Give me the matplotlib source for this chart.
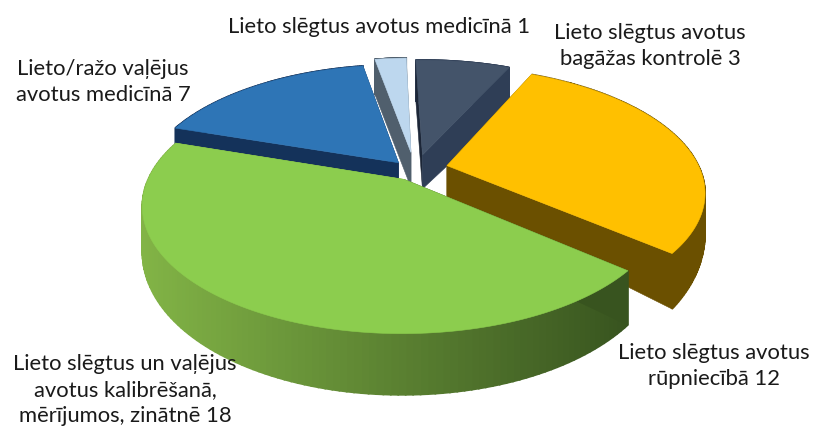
import numpy as np
import matplotlib
matplotlib.use('Agg')
import matplotlib.pyplot as plt
from matplotlib.patches import Polygon

plt.rcParams['font.family'] = ['Lato', 'Noto Sans', 'DejaVu Sans']

# clockwise from the top, as in the picture
labels = ['Lieto slēgtus avotus\nbagāžas kontrolē 3',
          'Lieto slēgtus avotus\nrūpniecībā 12',
          'Lieto slēgtus un vaļējus\navotus kalibrēšanā,\nmērījumos, zinātnē 18',
          'Lieto/ražo vaļējus\navotus medicīnā 7',
          'Lieto slēgtus avotus medicīnā 1']
values = [3, 12, 18, 7, 1]

top_colors = ['#44546a', '#ffc000', '#8ccd4e', '#2e75b6', '#bdd7ee']
wall_left = ['#2f3e56', '#6b5000', '#82b446', '#14325a', '#505f6d']
wall_right = ['#2f3e56', '#6b5000', '#38541f', '#14325a', '#505f6d']
cut_start = ['#1c2637', '#6b5000', '#38541f', '#14325a', '#505f6d']
cut_end = ['#2f3e56', '#6b5000', '#82b446', '#14325a', '#505f6d']
explode = [0.15, 0.13, 0.07, 0.07, 0.16]
# small corrections in px after the explode
nudge_x = [3, 3, 1, -2, 3]
nudge_y = [1, -2, 1, -2, 0]
# wall height in px: a - b * y
depth_a = [33, 32, 40, 25, 35]
depth_b = [-7, 38, 20, 0, 0]
label_pos = [(650, 46), (714, 366), (125, 390), (103, 82), (379, 27)]

CX, CY = 412, 172
R, RQ, K = 253, 120, 0.2
START = -1.5


def project(x, y, drop=0):
    w = 1 + K * y
    return (CX + R * x / w, CY - RQ * y / w + drop)


fig = plt.figure(figsize=(8.14, 4.31), dpi=100)
ax = fig.add_axes([0, 0, 1, 1])
ax.set_xlim(0, 814)
ax.set_ylim(431, 0)
ax.axis('off')

fracs = np.array(values) / sum(values) * 360
ends = START + np.cumsum(fracs)
starts = ends - fracs
# painter's order: back slices first, green in front
for i in [4, 0, 3, 1, 2]:
    t = np.radians(np.linspace(starts[i], ends[i], 120))
    mid = np.radians((starts[i] + ends[i]) / 2)
    ox, oy = explode[i] * np.sin(mid), explode[i] * np.cos(mid)
    xs, ys = ox + np.sin(t), oy + np.cos(t)

    def pt(x, y, low=False):
        px, py = project(x, y, max(depth_a[i] - depth_b[i] * y, 0) if low else 0)
        return (px + nudge_x[i], py + nudge_y[i])

    pts_top = [pt(a, b) for a, b in zip(xs, ys)]
    pts_low = [pt(a, b, True) for a, b in zip(xs, ys)]
    xmin, xmax = min(p[0] for p in pts_top), max(p[0] for p in pts_top)
    c0 = np.array(matplotlib.colors.to_rgb(wall_left[i]))
    c1 = np.array(matplotlib.colors.to_rgb(wall_right[i]))
    for j in range(len(t) - 1):
        f = (pts_top[j][0] - xmin) / max(xmax - xmin, 1)
        col = c0 + (c1 - c0) * f
        ax.add_patch(Polygon([pts_top[j], pts_top[j + 1], pts_low[j + 1], pts_low[j]],
                             closed=True, fc=col, ec=col, lw=1.2))
    for j, c in [(0, cut_start[i]), (-1, cut_end[i])]:
        ax.add_patch(Polygon([pt(ox, oy), pt(xs[j], ys[j]), pt(xs[j], ys[j], True), pt(ox, oy, True)],
                             closed=True, fc=c, ec=c, lw=0.4))
    ax.add_patch(Polygon([pt(ox, oy)] + pts_top, closed=True, fc=top_colors[i], ec=top_colors[i], lw=0.4))

for lab, (px, py) in zip(labels, label_pos):
    ax.text(px, py, lab, ha='center', va='center', fontsize=15.8, color='#1a1a1a', linespacing=1.4)

fig.savefig('out.png', dpi=100)
